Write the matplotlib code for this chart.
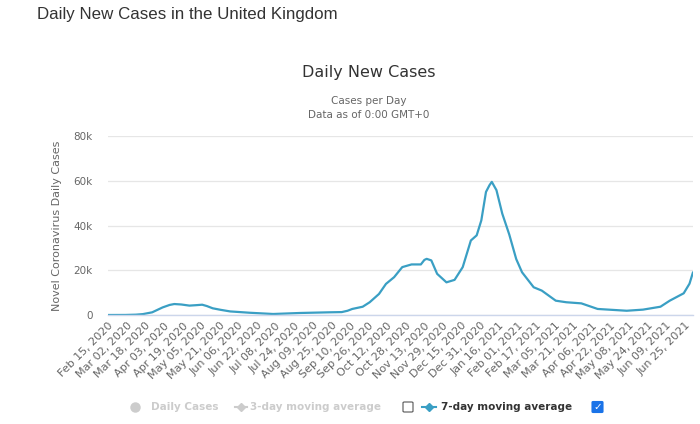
import matplotlib
matplotlib.use("Agg")
import matplotlib.pyplot as plt
import matplotlib.dates as mdates
from matplotlib.lines import Line2D
from matplotlib.patches import FancyBboxPatch
import pandas as pd

# ---- data ----
dates = [
    "2020-02-15", "2020-03-01", "2020-03-10", "2020-03-16", "2020-03-24",
    "2020-04-02", "2020-04-08", "2020-04-12", "2020-04-18", "2020-04-25",
    "2020-05-01", "2020-05-06", "2020-05-10", "2020-05-15", "2020-05-22",
    "2020-05-30", "2020-06-16", "2020-07-06", "2020-07-29", "2020-08-23",
    "2020-09-03", "2020-09-08", "2020-09-12", "2020-09-21", "2020-09-27",
    "2020-10-05", "2020-10-11", "2020-10-18", "2020-10-25", "2020-11-02",
    "2020-11-10", "2020-11-13", "2020-11-15", "2020-11-19", "2020-11-24",
    "2020-12-02", "2020-12-09", "2020-12-16", "2020-12-23", "2020-12-28",
    "2021-01-01", "2021-01-05", "2021-01-08", "2021-01-10", "2021-01-14",
    "2021-01-19", "2021-01-25", "2021-01-31", "2021-02-05", "2021-02-15",
    "2021-02-22", "2021-03-06", "2021-03-15", "2021-03-28", "2021-04-11",
    "2021-05-06", "2021-05-20", "2021-06-04", "2021-06-12", "2021-06-24",
    "2021-06-29", "2021-07-02",
]
avg7 = [
    0, 20, 150, 400, 1200,
    3400, 4500, 4900, 4700, 4200,
    4400, 4600, 4000, 3000, 2300,
    1600, 1000, 450, 900, 1200,
    1300, 1900, 2700, 3700, 5700,
    9400, 13900, 16900, 21400, 22600,
    22600, 24600, 25100, 24400, 18400,
    14600, 15700, 21400, 33300, 35600,
    42300, 55000, 58000, 59500, 55800,
    45300, 36000, 25000, 19100, 12400,
    10900, 6400, 5700, 5200, 2700,
    1900, 2400, 3700, 6400, 9700,
    14000, 19100,
]
tick_dates = pd.date_range("2020-02-15", periods=32, freq="16D")
tick_labels = [d.strftime("%b %d, %Y") for d in tick_dates]
y_ticks = [0, 20000, 40000, 60000, 80000]
y_tick_labels = ["0", "20k", "40k", "60k", "80k"]

LINE = "#3a9fc4"
GREY = "#666666"

fig = plt.figure(figsize=(7.0, 4.24), dpi=100)
W, H = 700, 424
ax = fig.add_axes([108 / W, 1 - 315 / H, (693 - 108) / W, (315 - 136) / H])

x = mdates.date2num(pd.to_datetime(dates))
ax.plot(x, avg7, color=LINE, lw=1.6, solid_joinstyle="round", solid_capstyle="round")

ax.set_xlim(x[0], x[-1])
ax.set_ylim(0, 80000)
ax.set_yticks(y_ticks)
ax.set_yticklabels(y_tick_labels, color=GREY, fontsize=7.5, family="DejaVu Sans")
ax.tick_params(axis="y", length=0, pad=11)
ax.grid(axis="y", color="#e6e6e6", lw=0.9)
ax.set_axisbelow(True)

ax.set_xticks(mdates.date2num(tick_dates))
ax.set_xticklabels(tick_labels, rotation=45, ha="right", va="top",
                   rotation_mode="anchor", color=GREY, fontsize=8, family="DejaVu Sans")
ax.tick_params(axis="x", length=0, pad=4)

for s in ["top", "right", "left"]:
    ax.spines[s].set_visible(False)
ax.spines["bottom"].set_color("#ccd6eb")
ax.spines["bottom"].set_linewidth(1.0)

ax.set_ylabel("Novel Coronavirus Daily Cases", color=GREY, fontsize=8, family="DejaVu Sans")
ax.yaxis.set_label_coords(-0.078, 0.5)

# titles
fig.text(37 / W, 1 - 15 / H, "Daily New Cases in the United Kingdom", fontsize=12.2,
         family="Liberation Sans", color="#333333", ha="left", va="center")
fig.text(369 / W, 1 - 73 / H, "Daily New Cases", fontsize=11.5, family="DejaVu Sans",
         color="#333333", ha="center", va="center")
fig.text(369 / W, 1 - 101 / H, "Cases per Day", fontsize=7.5, family="DejaVu Sans",
         color=GREY, ha="center", va="center")
fig.text(369 / W, 1 - 115 / H, "Data as of 0:00 GMT+0", fontsize=7.5, family="DejaVu Sans",
         color=GREY, ha="center", va="center")

# legend (manual)
ly = 1 - 407 / H
light = "#cccccc"
fig.add_artist(Line2D([135 / W], [ly], marker="o", ms=6.5, color=light, ls="none",
                      transform=fig.transFigure))
fig.text(151 / W, ly, "Daily Cases", fontsize=7.5, fontweight="bold", color=light,
         ha="left", va="center", family="DejaVu Sans")
fig.add_artist(Line2D([235 / W, 247 / W], [ly, ly], color=light, lw=1.5,
                      transform=fig.transFigure))
fig.add_artist(Line2D([241 / W], [ly], marker="D", ms=4, color=light, ls="none",
                      transform=fig.transFigure))
fig.text(250 / W, ly, "3-day moving average", fontsize=7.5, fontweight="bold", color=light,
         ha="left", va="center", family="DejaVu Sans")
fig.add_artist(FancyBboxPatch((403 / W, ly - 5 / H), 10 / W, 10 / H,
                              boxstyle="round,pad=0,rounding_size=0.002",
                              fc="white", ec="#555555", lw=0.8, transform=fig.transFigure))
fig.add_artist(Line2D([422 / W, 436 / W], [ly, ly], color=LINE, lw=1.5,
                      transform=fig.transFigure))
fig.add_artist(Line2D([429 / W], [ly], marker="D", ms=4, color=LINE, ls="none",
                      transform=fig.transFigure))
fig.text(441 / W, ly, "7-day moving average", fontsize=7.5, fontweight="bold", color="#333333",
         ha="left", va="center", family="DejaVu Sans")
fig.add_artist(FancyBboxPatch((592 / W, ly - 5.5 / H), 11 / W, 11 / H,
                              boxstyle="round,pad=0,rounding_size=0.002",
                              fc="#1a73e8", ec="#1a73e8", lw=0.8, transform=fig.transFigure))
fig.text(597.5 / W, ly, "\u2713", fontsize=7.5, fontweight="bold", color="white",
         ha="center", va="center", family="DejaVu Sans")

fig.savefig("out.png", dpi=100)
